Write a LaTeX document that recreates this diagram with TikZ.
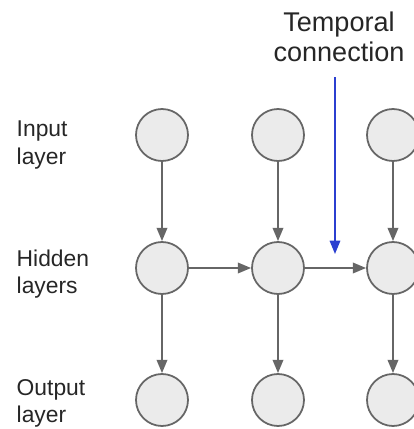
\documentclass[tikz,border=0pt]{standalone}
\usepackage{fontspec}
\setmainfont{Liberation Sans}
\usetikzlibrary{arrows.meta}
\definecolor{nodegray}{HTML}{EBEBEB}
\definecolor{edgegray}{HTML}{666666}
\definecolor{tempblue}{HTML}{2B3FD0}

\tikzset{
  unit/.style={circle,draw=edgegray,fill=nodegray,line width=0.5pt,minimum size=0.52cm,inner sep=0pt},
  flow/.style={draw=edgegray,line width=0.6pt,->},
  rowlabel/.style={anchor=west,align=left,inner sep=0pt,text=black!85,font=\fontsize{6.5}{7.7}\selectfont},
}

\begin{document}
\begin{tikzpicture}[scale=1.0,>={Triangle[length=3.8pt,width=3pt]}]
            \useasboundingbox (0,0) rectangle (4.14,4.29);
            \clip (0,0) rectangle (4.14,4.29);

            % Row labels
            \node[rowlabel] (lblIn) at (0.16,2.84) {Input\\layer};
            \node[rowlabel] (lblHid) at (0.16,1.55) {Hidden\\layers};
            \node[rowlabel] (lblOut) at (0.16,0.26) {Output\\layer};

            % Units
            \node[unit] (in0) at (1.62,2.94) {};
            \node[unit] (in1) at (2.78,2.94) {};
            \node[unit] (in2) at (3.93,2.94) {};

            \node[unit] (hid0) at (1.62,1.61) {};
            \node[unit] (hid1) at (2.78,1.61) {};
            \node[unit] (hid2) at (3.93,1.61) {};

            \node[unit] (out0) at (1.62,0.29) {};
            \node[unit] (out1) at (2.78,0.29) {};
            \node[unit] (out2) at (3.93,0.29) {};

            % Input to hidden
            \draw[flow] (in0) -- (hid0);
            \draw[flow] (in1) -- (hid1);
            \draw[flow] (in2) -- (hid2);

            % Hidden to hidden
            \draw[flow] (hid0) -- (hid1);
            \draw[flow] (hid1) -- (hid2);

            % Hidden to output
            \draw[flow] (hid0) -- (out0);
            \draw[flow] (hid1) -- (out1);
            \draw[flow] (hid2) -- (out2);

            % Temporal connection marker
            \node[align=center,inner sep=0pt,text=black!85,font=\fontsize{7.7}{8.5}\selectfont] (temporal) at (3.39,3.92) {Temporal\\connection};
            \coordinate (tcStart) at (3.35,3.52);
            \coordinate (tcTip) at (3.35,1.75);
            \draw[tempblue,line width=0.45pt,->] (tcStart) -- (tcTip);
        \end{tikzpicture}
\end{document}
